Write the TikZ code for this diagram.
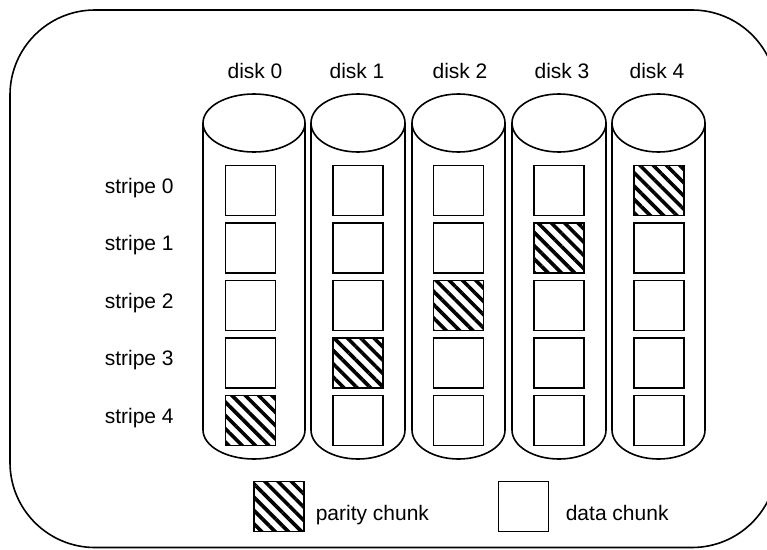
\documentclass[tikz,border=0pt]{standalone}
\usepackage{fontspec}
\setmainfont{Liberation Sans}
\usetikzlibrary{patterns.meta}
\begin{document}
\begin{tikzpicture}[x=1pt,y=-1pt,
  line width=1.6pt,
  chunk/.style={draw, line width=1.6pt, minimum size=50pt, inner sep=0pt},
  parity/.style={chunk, pattern={Lines[angle=-45,distance=9.4pt,line width=3.6pt]}},
  lbl/.style={font=\fontsize{21}{25}\selectfont, inner sep=0pt},
  disk/.style={draw, line width=1.6pt}]
\useasboundingbox (0,0) rectangle (767,549);
\clip (0,0) rectangle (767,549);
% outer frame
\draw[rounded corners=85pt] (10,10) rectangle (777,547.5);
% cylinders
\foreach \c/\r [count=\i from 0] in {254/51, 358/47, 458.5/46.5, 559/47, 658.5/46.5}{
  \draw[disk] (\c-\r,123) -- (\c-\r,430) arc[start angle=180,end angle=0,x radius=\r,y radius=29] -- (\c+\r,123);
  \draw[disk] (\c,123) ellipse[x radius=\r, y radius=29];
}
% disk labels
\node[lbl, anchor=base] (dl0) at (255,78) {disk 0};
\node[lbl, anchor=base] (dl1) at (357,78) {disk 1};
\node[lbl, anchor=base] (dl2) at (460,78) {disk 2};
\node[lbl, anchor=base] (dl3) at (562,78) {disk 3};
\node[lbl, anchor=base] (dl4) at (657,78) {disk 4};
% stripe labels and chunks
\foreach \s in {0,...,4}{
  \pgfmathsetmacro{\yy}{190.5+57.5*\s}
  \node[lbl, anchor=base west] (sl\s) at (104,\yy+2.5) {stripe \s};
  \foreach \c [count=\d from 0] in {250.5, 358, 458.5, 559, 659}{
    \pgfmathtruncatemacro{\isp}{(\s+\d==4)?1:0}
    \ifnum\isp=1
      \node[parity] (c\s-\d) at (\c,\yy) {};
    \else
      \node[chunk] (c\s-\d) at (\c,\yy) {};
    \fi
  }
}
% legend
\node[parity] (legp) at (279,506.5) {};
\node[lbl, anchor=base west] (legpt) at (315,520) {parity chunk};
\node[chunk] (legd) at (523.5,506.5) {};
\node[lbl, anchor=base west] (legdt) at (565,520) {data chunk};
\end{tikzpicture}
\end{document}
